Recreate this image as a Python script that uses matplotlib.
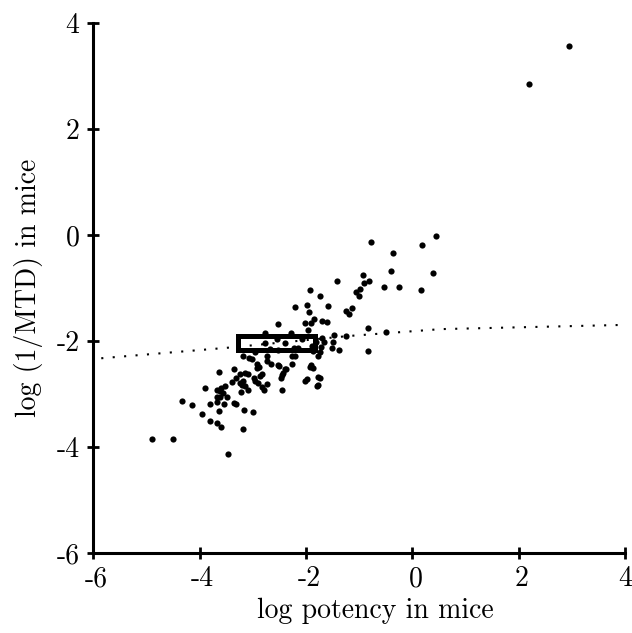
import numpy as np
import matplotlib.pyplot as plt
import matplotlib.transforms as mtransforms
from matplotlib.patches import Rectangle

plt.rcParams['font.family'] = 'serif'
plt.rcParams['font.serif'] = ['cmr10', 'DejaVu Serif']
plt.rcParams['axes.unicode_minus'] = False

# log potency (x) vs log(1/MTD) (y)
potency = [
    2.20, 2.95, 0.45, 0.19, -0.37, -0.77, -0.41, 0.38, -0.92, -0.90,
    -0.81, -1.41, -0.54, -0.26, 0.17, -1.92, -1.73, -1.06, -0.98, -1.00,
    -2.20, -1.99, -1.58, -1.95, -1.24, -1.19, -1.14, -1.90, -1.85, -2.01,
    -1.69, -1.61, -2.52, -0.83, -0.49, -1.97, -1.47, -2.07, -1.69, -1.66,
    -1.71, -1.49, -1.52, -1.38, -0.84, -2.39, -2.22, -2.27, -2.21, -1.88,
    -1.77, -1.74, -1.90, -1.93, -1.86, -2.27, -2.52, -2.40, -2.78, -2.28,
    -2.78, -2.54, -2.15, -1.24, -1.82, -1.86, -2.52, -2.68, -3.18, -3.07,
    -3.01, -2.96, -2.74, -2.73, -2.65, -2.93, -2.88, -2.93, -2.50, -2.37,
    -2.43, -2.46, -2.47, -1.73, -2.02, -1.99, -1.80, -2.46, -3.63, -3.36,
    -3.25, -3.15, -3.09, -3.32, -3.24, -3.18, -3.39, -2.98, -2.96, -2.91,
    -2.86, -2.82, -2.74, -2.82, -2.79, -3.21, -3.14, -3.22, -3.09, -3.89,
    -3.68, -3.62, -3.59, -3.52, -4.33, -4.14, -3.81, -3.68, -3.67, -3.62,
    -3.49, -3.54, -3.36, -3.31, -3.63, -3.96, -3.16, -2.99, -3.80, -3.68,
    -3.59, -3.18, -4.89, -4.51, -3.46, -1.77, -1.77, -3.56,
]
mtd = [
    2.85, 3.57, -0.02, -0.18, -0.34, -0.13, -0.68, -0.72, -0.75, -0.90,
    -0.87, -0.87, -0.97, -0.97, -1.04, -1.03, -1.14, -1.07, -1.02, -1.14,
    -1.35, -1.31, -1.34, -1.45, -1.43, -1.48, -1.38, -1.65, -1.57, -1.65,
    -1.61, -1.64, -1.67, -1.74, -1.82, -1.78, -1.88, -1.96, -1.94, -2.02,
    -2.11, -2.01, -2.12, -2.17, -2.19, -2.04, -2.12, -2.28, -2.28, -2.09,
    -2.28, -2.20, -2.45, -2.48, -2.50, -2.42, -2.45, -2.53, -1.84, -1.85,
    -2.04, -1.96, -2.13, -1.90, -2.02, -2.18, -2.17, -2.15, -2.28, -2.31,
    -2.34, -2.21, -2.28, -2.37, -2.42, -2.43, -2.48, -2.50, -2.47, -2.53,
    -2.59, -2.64, -2.69, -2.69, -2.75, -2.72, -2.84, -2.91, -2.57, -2.53,
    -2.61, -2.59, -2.62, -2.69, -2.78, -2.75, -2.77, -2.69, -2.74, -2.78,
    -2.65, -2.62, -2.80, -2.86, -2.91, -2.83, -2.84, -2.95, -2.91, -2.88,
    -2.92, -2.94, -2.89, -2.84, -3.13, -3.21, -3.18, -3.15, -3.06, -3.05,
    -3.06, -3.19, -3.16, -3.19, -3.32, -3.37, -3.29, -3.33, -3.50, -3.54,
    -3.61, -3.65, -3.84, -3.84, -4.12, -2.82, -2.67, -2.97,
]

# dotted reference curve
curve_x = [-5.85, -3.46, -1.2, 0.54, 4.0]
curve_y = [-2.32, -2.12, -1.90, -1.77, -1.69]

# highlighted box (x0, y0, x1, y1)
box = (-3.27, -2.16, -1.83, -1.90)

ticks = [-6, -4, -2, 0, 2, 4]

fig = plt.figure(figsize=(6.32, 6.33), dpi=100)
ax = fig.add_axes([0.1476, 0.1259, 0.8414, 0.8373])

ax.plot(curve_x, curve_y, color='black', lw=1.5, linestyle=(0, (1, 4.5)))
ax.scatter(potency, mtd, s=20, color='black', linewidths=0, zorder=3)
ax.add_patch(Rectangle((box[0], box[1]), box[2] - box[0], box[3] - box[1],
                       fill=False, edgecolor='black', lw=3.6, zorder=4))

ax.set_xlim(-6, 4)
ax.set_ylim(-6, 4)
ax.set_xticks(ticks)
ax.set_yticks(ticks)
ax.set_xticklabels([str(t) for t in ticks])
ax.set_yticklabels([str(t) for t in ticks])
for side in ['top', 'right']:
    ax.spines[side].set_visible(False)
for side in ['left', 'bottom']:
    ax.spines[side].set_linewidth(2.2)
ax.tick_params(direction='inout', length=8, width=2, labelsize=20)
ax.tick_params(axis='x', pad=5)
ax.tick_params(axis='y', pad=6)

# x tick labels sit a touch right of their ticks in the original (not the last)
shift = mtransforms.ScaledTranslation(3 / 100, 0, fig.dpi_scale_trans)
for lbl in ax.get_xticklabels()[:-1]:
    lbl.set_transform(lbl.get_transform() + shift)

ax.set_xlabel('log potency in mice', fontsize=20)
ax.set_ylabel('log (1/MTD) in mice', fontsize=20)
ax.xaxis.set_label_coords(0.531, -0.084)
ax.yaxis.set_label_coords(-0.095, 0.5)

fig.savefig('out.png', dpi=100)
